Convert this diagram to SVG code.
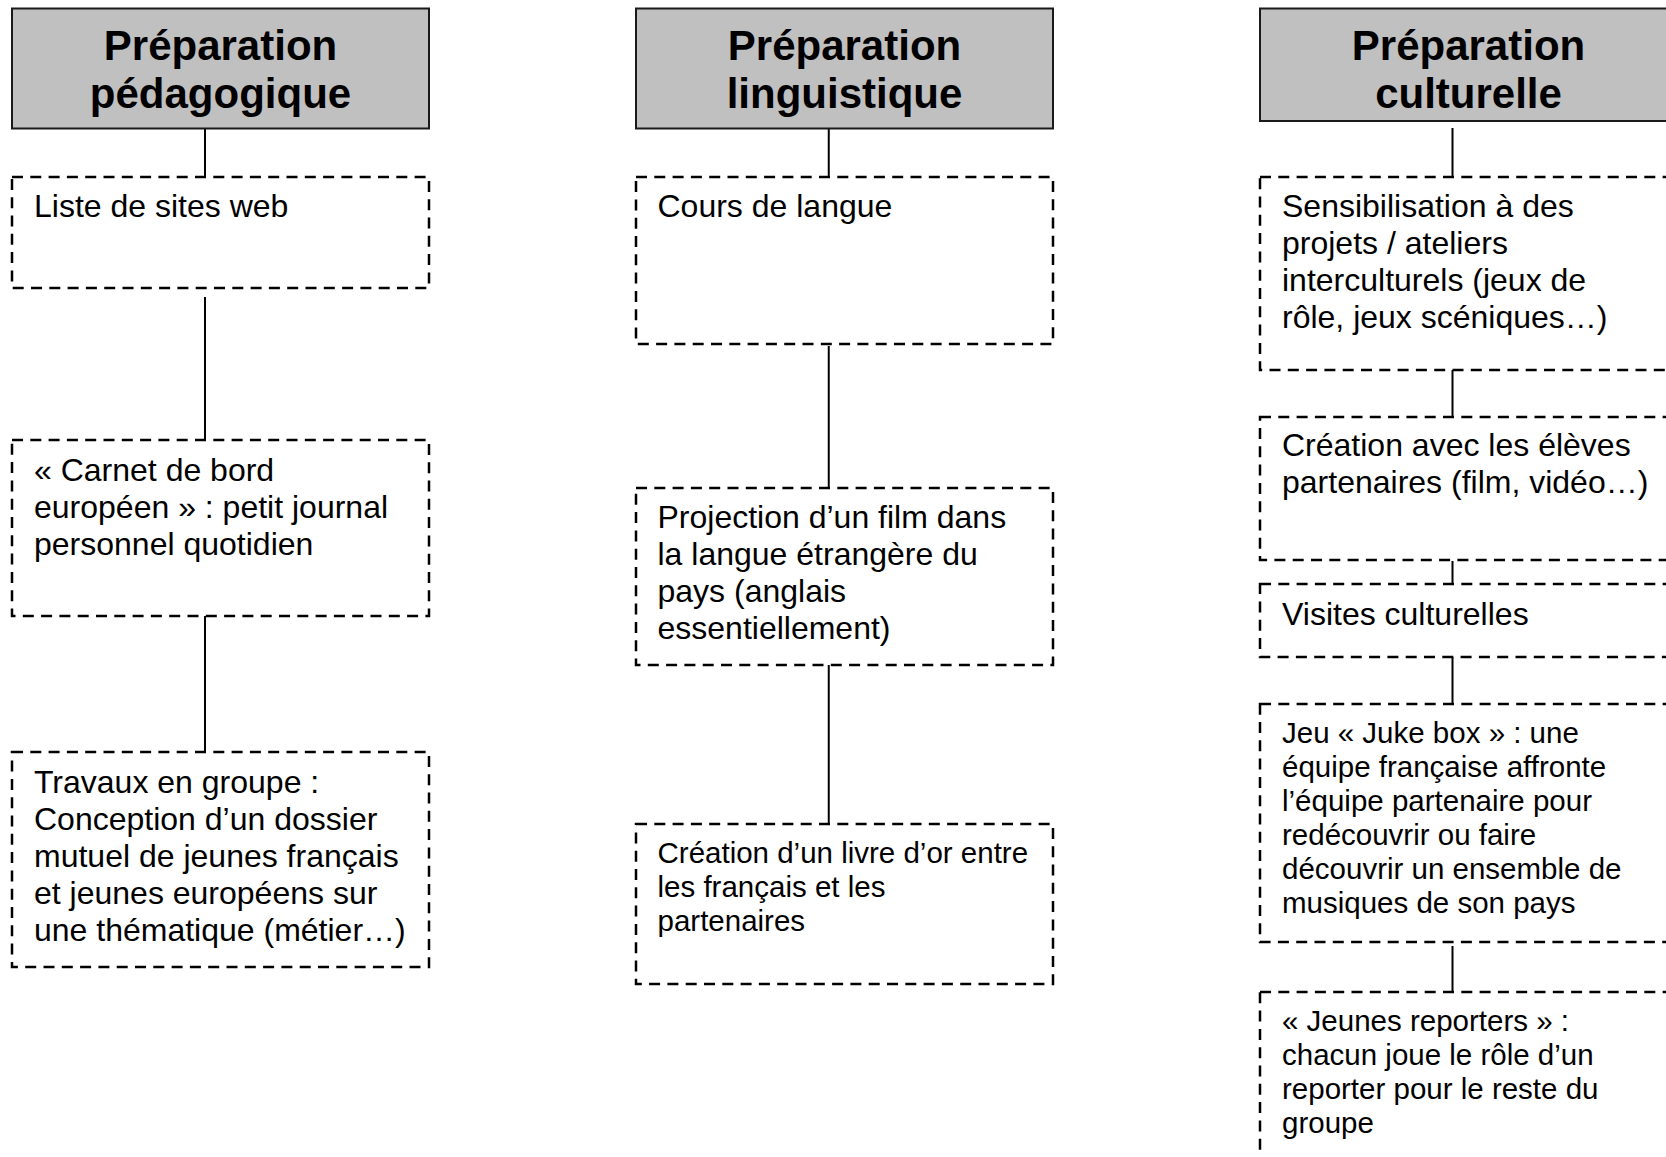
<svg xmlns="http://www.w3.org/2000/svg" width="1666" height="1157" viewBox="0 0 1666 1157">
<style>
.hdr{fill:#c0c0c0;stroke:#1a1a1a;stroke-width:2}
.box{fill:#fff;stroke:#000;stroke-width:2.5;stroke-dasharray:11 7.3}
.ht{font-family:"Liberation Sans",Arial,sans-serif;font-weight:bold;font-size:42px;text-anchor:middle;fill:#000}
.t{font-family:"Liberation Sans",Arial,sans-serif;font-size:32px;fill:#000}
.s{font-family:"Liberation Sans",Arial,sans-serif;font-size:29.5px;fill:#000}
.c{stroke:#000;stroke-width:2;fill:none}
</style>
<rect width="1666" height="1157" fill="#fff"/>
<g id="connectors">
<line class="c" x1="205" y1="128.5" x2="205" y2="177"/>
<line class="c" x1="205" y1="297" x2="205" y2="440"/>
<line class="c" x1="205" y1="612" x2="205" y2="752"/>
<line class="c" x1="828.75" y1="128.5" x2="828.75" y2="177"/>
<line class="c" x1="828.75" y1="346" x2="828.75" y2="488"/>
<line class="c" x1="828.75" y1="657" x2="828.75" y2="824"/>
<line class="c" x1="1452.5" y1="128" x2="1452.5" y2="177"/>
<line class="c" x1="1452.5" y1="370" x2="1452.5" y2="417"/>
<line class="c" x1="1452.5" y1="561" x2="1452.5" y2="584"/>
<line class="c" x1="1452.5" y1="657" x2="1452.5" y2="704"/>
<line class="c" x1="1452.5" y1="946" x2="1452.5" y2="992"/>
</g>
<g id="h1"><rect class="hdr" x="12" y="8.5" width="417" height="120"/><text class="ht" x="220.5" y="60">Préparation</text><text class="ht" x="220.5" y="108">pédagogique</text></g>
<g id="h2"><rect class="hdr" x="636" y="8.5" width="417" height="120"/><text class="ht" x="844.5" y="60">Préparation</text><text class="ht" x="844.5" y="108">linguistique</text></g>
<g id="h3"><rect class="hdr" x="1260" y="8.5" width="417" height="112.5"/><text class="ht" x="1468.5" y="60">Préparation</text><text class="ht" x="1468.5" y="108">culturelle</text></g>

<g id="n1a"><rect class="box" x="12" y="177" width="417" height="111"/><text class="t" x="34" y="217">Liste de sites web</text></g>
<g id="n1b"><rect class="box" x="12" y="440" width="417" height="176"/><text class="t" x="34"><tspan x="34" y="481">« Carnet de bord</tspan><tspan x="34" y="518">européen » : petit journal</tspan><tspan x="34" y="555">personnel quotidien</tspan></text></g>
<g id="n1c"><rect class="box" x="12" y="752" width="417" height="215"/><text class="t"><tspan x="34" y="793">Travaux en groupe :</tspan><tspan x="34" y="830">Conception d’un dossier</tspan><tspan x="34" y="867">mutuel de jeunes français</tspan><tspan x="34" y="904">et jeunes européens sur</tspan><tspan x="34" y="941">une thématique (métier…)</tspan></text></g>

<g id="n2a"><rect class="box" x="636" y="177" width="417" height="167"/><text class="t" x="657.5" y="217">Cours de langue</text></g>
<g id="n2b"><rect class="box" x="636" y="488" width="417" height="177"/><text class="t"><tspan x="657.5" y="528">Projection d’un film dans</tspan><tspan x="657.5" y="565">la langue étrangère du</tspan><tspan x="657.5" y="602">pays (anglais</tspan><tspan x="657.5" y="639">essentiellement)</tspan></text></g>
<g id="n2c"><rect class="box" x="636" y="824" width="417" height="160"/><text class="s"><tspan x="657.5" y="863">Création d’un livre d’or entre</tspan><tspan x="657.5" y="897">les français et les</tspan><tspan x="657.5" y="931">partenaires</tspan></text></g>

<g id="n3a"><rect class="box" x="1260" y="177" width="417" height="193"/><text class="t"><tspan x="1282" y="217">Sensibilisation à des</tspan><tspan x="1282" y="254">projets / ateliers</tspan><tspan x="1282" y="291">interculturels (jeux de</tspan><tspan x="1282" y="328">rôle, jeux scéniques…)</tspan></text></g>
<g id="n3b"><rect class="box" x="1260" y="417" width="417" height="143"/><text class="t"><tspan x="1282" y="456">Création avec les élèves</tspan><tspan x="1282" y="493">partenaires (film, vidéo…)</tspan></text></g>
<g id="n3c"><rect class="box" x="1260" y="584" width="417" height="73"/><text class="t" x="1282" y="625">Visites culturelles</text></g>
<g id="n3d"><rect class="box" x="1260" y="704" width="417" height="238"/><text class="s"><tspan x="1282" y="743">Jeu « Juke box » : une</tspan><tspan x="1282" y="777">équipe française affronte</tspan><tspan x="1282" y="811">l’équipe partenaire pour</tspan><tspan x="1282" y="845">redécouvrir ou faire</tspan><tspan x="1282" y="879">découvrir un ensemble de</tspan><tspan x="1282" y="913">musiques de son pays</tspan></text></g>
<g id="n3e"><rect class="box" x="1260" y="992" width="417" height="220"/><text class="s"><tspan x="1282" y="1031">« Jeunes reporters » :</tspan><tspan x="1282" y="1065">chacun joue le rôle d’un</tspan><tspan x="1282" y="1099">reporter pour le reste du</tspan><tspan x="1282" y="1133">groupe</tspan></text></g>
</svg>
